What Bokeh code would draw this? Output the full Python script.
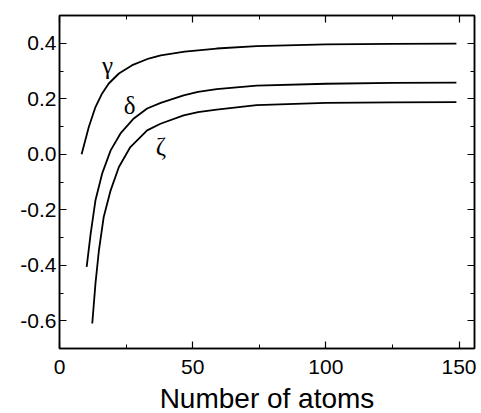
from bokeh.plotting import figure
from bokeh.models import (LinearAxis, Range1d, PrintfTickFormatter, SingleIntervalTicker,
                          Label, CustomJSTickFormatter)
from bokeh.embed import file_html
from bokeh.resources import INLINE

# data
gamma_x = [8.3, 11.0, 13.5, 16.0, 18.5, 22.3, 27.3, 33.5, 38, 47, 59, 74, 100, 125, 149]
gamma_y = [0.0, 0.098, 0.17, 0.219, 0.255, 0.291, 0.321, 0.345, 0.356, 0.370, 0.381, 0.390, 0.396, 0.398, 0.399]

delta_x = [10.2, 11.7, 13.5, 16.0, 19.2, 22.9, 27.9, 32.9, 38, 46.6, 52, 59, 74, 100, 125, 149]
delta_y = [-0.406, -0.286, -0.166, -0.07, 0.014, 0.075, 0.129, 0.165, 0.185, 0.212, 0.225, 0.235, 0.247, 0.254, 0.257, 0.258]

zeta_x = [12.3, 13.5, 14.8, 16.6, 19.2, 22.3, 26.6, 32.9, 37.9, 46.6, 52, 59, 74, 100, 125, 149]
zeta_y = [-0.61, -0.466, -0.346, -0.226, -0.13, -0.046, 0.026, 0.086, 0.11, 0.14, 0.152, 0.161, 0.177, 0.185, 0.187, 0.188]

labels = ["\u03b3", "\u03b4", "\u03b6"]
label_x = [18.0, 26.3, 38.1]
label_y = [0.321, 0.176, 0.028]

x_label = "Number of atoms"

p = figure(width=480, height=413, output_backend="svg", toolbar_location=None,
           x_range=Range1d(0, 155.8), y_range=Range1d(-0.7, 0.5),
           min_border_left=59, min_border_top=15, min_border_right=2, min_border_bottom=10,
           x_axis_location=None, y_axis_location=None)
p.frame_width = 415
p.frame_height = 333
p.xgrid.visible = False
p.ygrid.visible = False
p.outline_line_color = "black"
p.outline_line_width = 1.5
p.background_fill_color = "white"
p.border_fill_color = "white"

def style(ax, labels_on, is_x):
    ax.ticker = SingleIntervalTicker(interval=50 if is_x else 0.2, num_minor_ticks=2)
    ax.major_tick_in = 7
    ax.major_tick_out = 0
    ax.minor_tick_in = 4
    ax.minor_tick_out = 0
    ax.axis_line_color = "black"
    ax.axis_line_width = 1.5
    ax.major_tick_line_color = "black"
    ax.major_tick_line_width = 1.2
    ax.minor_tick_line_color = "black"
    ax.minor_tick_line_width = 1.0
    if labels_on:
        ax.major_label_text_font = "Liberation Sans"
        ax.major_label_text_font_size = "21px"
        ax.major_label_text_color = "black"
        ax.major_label_standoff = 11 if is_x else 3
        if not is_x:
            ax.formatter = PrintfTickFormatter(format="%.1f")
    else:
        ax.formatter = CustomJSTickFormatter(code="return '';")
        ax.major_label_standoff = 0

bottom = LinearAxis(axis_label=x_label)
style(bottom, True, True)
bottom.axis_label_text_font = "Liberation Sans"
bottom.axis_label_text_font_size = "28px"
bottom.axis_label_text_font_style = "normal"
bottom.axis_label_text_color = "black"
bottom.axis_label_standoff = 6
left = LinearAxis()
style(left, True, False)
top = LinearAxis()
style(top, False, True)
right = LinearAxis()
style(right, False, False)
p.add_layout(bottom, "below")
p.add_layout(left, "left")
p.add_layout(top, "above")
p.add_layout(right, "right")

for xs, ys in [(gamma_x, gamma_y), (delta_x, delta_y), (zeta_x, zeta_y)]:
    p.line(xs, ys, line_color="black", line_width=1.8)

for t, lx, ly in zip(labels, label_x, label_y):
    p.add_layout(Label(x=lx, y=ly, text=t, text_font="Liberation Serif",
                       text_font_size="25px", text_align="center",
                       text_baseline="middle", text_color="black"))

open("out.html", "w").write(file_html(p, INLINE))
